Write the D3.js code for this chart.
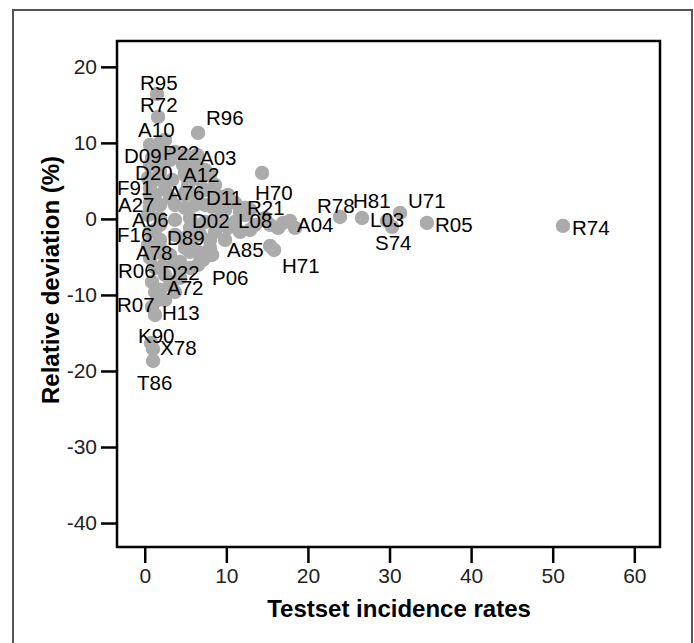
<!DOCTYPE html>
<html>
<head>
<meta charset="utf-8">
<script src="https://cdn.jsdelivr.net/npm/d3@7"></script>
<style>
  html, body { margin: 0; padding: 0; background: #fff; }
  svg { display: block; }
</style>
</head>
<body>
<svg id="chart"></svg>
<script>
// Labelled points: code, testset incidence rate, relative deviation (%)
const codes = ["R95","R72","A10","R96","D09","P22","A03","D20","A12","F91",
  "A76","D11","H70","A27","R21","A06","D02","L08","F16","D89",
  "A78","A85","H71","R06","D22","P06","A72","R07","H13","K90",
  "X78","T86","A04","R78","H81","L03","S74","U71","R05","R74"];
const incidence = [1.51,1.63,1.88,6.53,0.89,3.71,7.39,1.88,6.16,0.65,
  4.94,8.61,14.38,0.65,12.29,1.88,7.39,13.52,0.65,4.94,
  2.12,15.36,15.85,1.26,4.33,7.14,3.10,1.63,1.26,0.77,
  1.02,1.02,17.81,23.93,26.63,29.69,30.31,31.29,34.59,51.26];
const deviation = [16.45,13.42,10.0,11.32,8.03,8.82,6.45,6.18,5.39,4.08,
  3.42,3.03,6.05,2.11,0.53,0.13,-0.39,-0.79,-1.71,-2.5,
  -4.08,-3.55,-4.08,-6.45,-5.66,-5.39,-8.68,-10.66,-12.63,-16.32,
  -17.11,-18.68,-0.26,0.26,0.13,-0.26,-1.05,0.79,-0.53,-0.92];

// Unlabelled points of the dense cluster
const otherIncidence = [0.65,2.49,3.10,4.69,1.88,0.40,3.35,5.31,6.78,2.49,
  7.39,9.47,11.07,3.71,6.16,8.25,0.40,3.71,5.55,9.47,
  11.07,12.91,14.74,16.34,16.95,18.42,0.40,3.71,6.78,8.61,
  10.21,11.68,3.10,5.55,8.00,0.65,5.55,2.49,0.89,4.33,
  2.49,1.26,1.88,8.25,9.84,1.26,0.65,
  1.26,2.49,0.65,1.88,4.94,6.16,1.26,3.10,7.39,9.47,
  11.68,1.88,5.55,8.61,12.91,1.88,4.94,6.78,2.49,4.33,
  1.88,3.71,0.89,
  4.94,6.41,4.94,8.00,4.94,6.53,10.21,0.65,4.94,12.29,
  6.78,15.36,5.80,8.00,1.63,6.53,4.08,6.53,3.35,9.84,
  8.61];
const otherDeviation = [9.74,10.39,7.76,7.11,7.11,5.39,5.13,4.47,5.13,3.82,
  3.82,2.89,2.11,1.84,1.84,1.58,0.53,-0.13,0.13,0.53,
  -0.39,1.18,0.13,-1.18,-0.53,-1.18,-3.42,-2.11,-2.11,-1.71,
  -1.18,-1.71,-4.74,-4.34,-3.82,-5.13,-6.45,-7.37,-8.29,-7.76,
  -10.66,-1.45,1.84,-4.74,-2.76,-9.61,3.16,
  9.08,8.42,7.11,5.13,6.18,7.11,3.16,2.76,1.84,1.58,
  0.92,-0.79,-1.18,-0.39,-1.45,-2.76,-3.82,-4.74,-5.66,-6.71,
  -9.34,-9.61,-11.58,
  8.42,8.42,5.79,5.79,3.16,3.16,3.16,1.45,1.45,1.45,
  -0.79,-0.79,-2.76,-2.76,-4.34,-4.34,-6.05,-6.05,-8.29,1.18,
  4.47];

const xTicks = [0, 10, 20, 30, 40, 50, 60];
const yTicks = [20, 10, 0, -10, -20, -30, -40];

// label placement (pixel offset of text start / baseline from the point)
const labelOffset = {
  R95: [-17, -4], R72: [-18, -5], A10: [-22, -6], R96: [8, -8], D09: [-28, 5],
  P22: [-12, 8], A03: [-5, -5], D20: [-25, 8], A12: [-12, 4], F91: [-33, 7],
  A76: [-17, 7], D11: [-9, 9], H70: [-7, 27], A27: [-32, 9], R21: [2, 0],
  A06: [-28, 9], D02: [-13, 6], L08: [-17, 3], F16: [-33, 10], D89: [-18, 7],
  A78: [-26, 10], A85: [-43, 11], H71: [8, 23], R06: [-37, 10], D22: [-18, 18],
  P06: [9, 25], A72: [-3, 10], R07: [-41, 12], H13: [7, 5], K90: [-13, 0],
  X78: [7, 6], T86: [-16, 29], A04: [7, 11], R78: [-23, -4], H81: [-9, -10],
  L03: [-17, 6], S74: [-17, 23], U71: [8, -5], R05: [8, 9], R74: [9, 9]
};

(function() {
  const INK = "#000";
  const DOT = "#ababab";
  const FONT = "'Liberation Sans', Arial, sans-serif";

  const width = 694, height = 643;
  const box = { left: 117, right: 660, top: 41, bottom: 547 };

  const svg = d3.select("#chart")
    .attr("width", width)
    .attr("height", height);

  // outer figure frame
  svg.append("rect")
    .attr("x", 13).attr("y", 10)
    .attr("width", 679).attr("height", 645)
    .attr("fill", "none")
    .attr("stroke", "#555")
    .attr("stroke-width", 2);

  const x = d3.scaleLinear().domain([-3.4, 63.15]).range([box.left, box.right]);
  const y = d3.scaleLinear().domain([-43.15, 23.4]).range([box.bottom, box.top]);

  const others = otherIncidence.map((v, i) => ({ x: v, y: otherDeviation[i] }));
  const points = codes.map((c, i) => ({ code: c, x: incidence[i], y: deviation[i] }));

  // points
  svg.append("g")
    .selectAll("circle")
    .data(others.concat(points))
    .join("circle")
    .attr("cx", d => x(d.x))
    .attr("cy", d => y(d.y))
    .attr("r", 7.2)
    .attr("fill", DOT);

  // labels
  svg.append("g")
    .selectAll("text")
    .data(points)
    .join("text")
    .attr("x", d => x(d.x) + labelOffset[d.code][0])
    .attr("y", d => y(d.y) + labelOffset[d.code][1])
    .attr("font-family", FONT)
    .attr("font-size", 20.5)
    .attr("fill", INK)
    .text(d => d.code);

  // axes
  const xAxis = svg.append("g")
    .attr("transform", `translate(0,${box.bottom})`)
    .call(d3.axisBottom(x).tickValues(xTicks).tickFormat(d => String(d)).tickSize(16).tickPadding(5));
  const yAxis = svg.append("g")
    .attr("transform", `translate(${box.left},0)`)
    .call(d3.axisLeft(y).tickValues(yTicks).tickFormat(d => String(d)).tickSize(16).tickPadding(4));

  [xAxis, yAxis].forEach(a => {
    a.select(".domain").remove();
    a.selectAll("line").attr("stroke", INK).attr("stroke-width", 2.5);
    a.selectAll("text")
      .attr("font-family", FONT)
      .attr("font-size", 21)
      .attr("fill", "#222");
  });

  // plot box
  svg.append("rect")
    .attr("x", box.left).attr("y", box.top)
    .attr("width", box.right - box.left)
    .attr("height", box.bottom - box.top)
    .attr("fill", "none")
    .attr("stroke", INK)
    .attr("stroke-width", 2.5);

  // axis titles
  svg.append("text")
    .attr("x", 399)
    .attr("y", 617)
    .attr("text-anchor", "middle")
    .attr("font-family", FONT)
    .attr("font-weight", 700)
    .attr("font-size", 24)
    .attr("fill", INK)
    .text("Testset incidence rates");

  svg.append("text")
    .attr("transform", `translate(59,280) rotate(-90)`)
    .attr("text-anchor", "middle")
    .attr("font-family", FONT)
    .attr("font-weight", 700)
    .attr("font-size", 24)
    .attr("fill", INK)
    .text("Relative deviation (%)");
})();
</script>
</body>
</html>
